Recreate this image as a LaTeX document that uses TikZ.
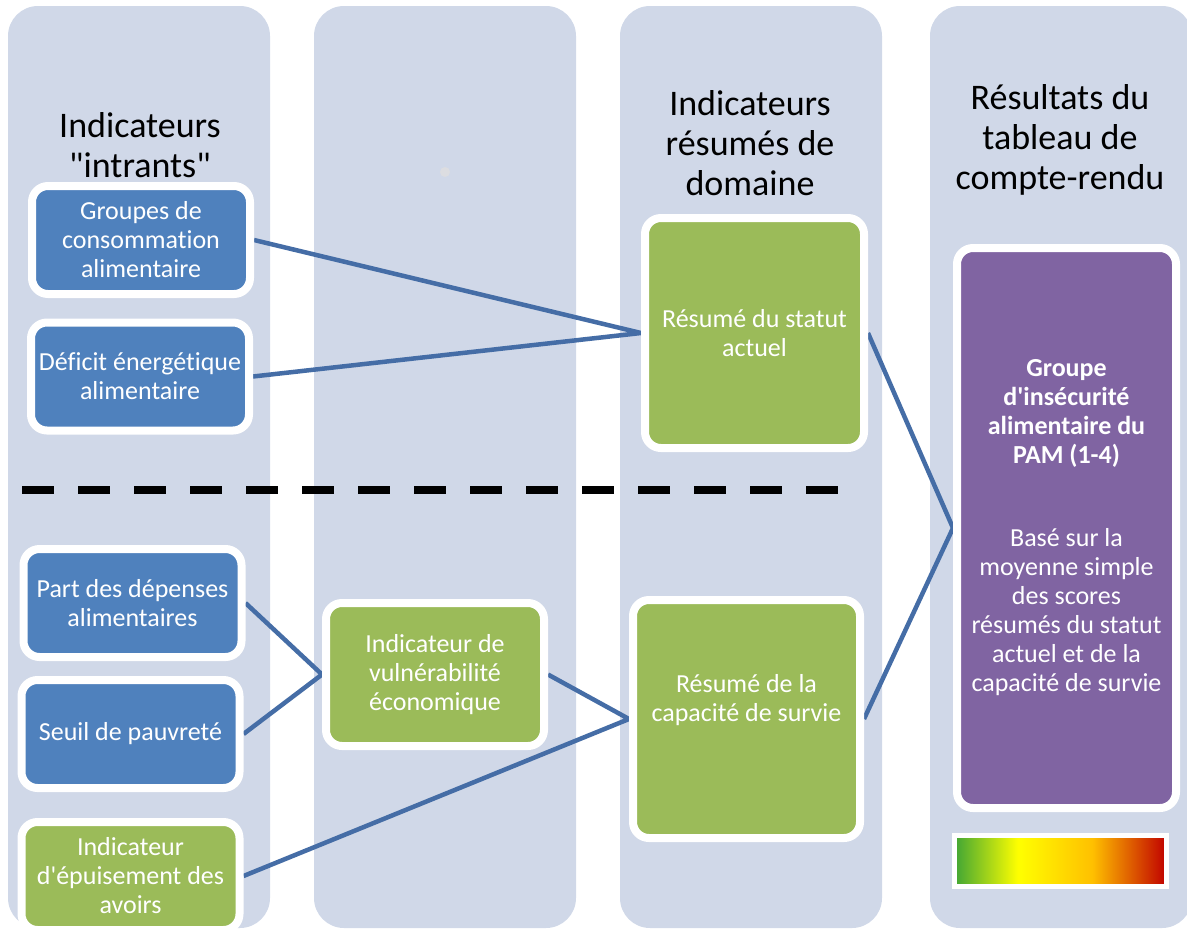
\documentclass[tikz,border=0pt]{standalone}
\usepackage{fontspec}
\setmainfont{Carlito}[Ligatures={TeXOff,CommonOff}]
\usetikzlibrary{arrows,shadows,backgrounds}

\definecolor{colbg}{HTML}{D0D8E8}
\definecolor{inblue}{HTML}{4F81BD}
\definecolor{sumgreen}{HTML}{9BBB59}
\definecolor{wfppurple}{HTML}{8064A2}
\definecolor{linkblue}{HTML}{456DA6}
\definecolor{dotgrey}{HTML}{DCDDE1}
\definecolor{barg}{HTML}{3FA535}
\definecolor{bary}{HTML}{FFFF00}
\definecolor{baro}{HTML}{FFC000}
\definecolor{barr}{HTML}{C00000}
\pgfdeclarehorizontalshading{scorebar}{100bp}{color(0bp)=(barg); color(25bp)=(barg); color(40bp)=(bary); color(57.5bp)=(baro); color(75bp)=(barr); color(100bp)=(barr)}

\begin{document}
\begin{tikzpicture}[x=1pt,y=-1pt,
  column/.style={fill=colbg, rounded corners=30pt},
  card/.style={draw=white, line width=8pt, rounded corners=16pt, text=white,
    align=center, font=\fontsize{26}{29}\selectfont,
    drop shadow={shadow xshift=1pt, shadow yshift=-3pt, opacity=0.3}},
  inbox/.style={card, fill=inblue, minimum width=218pt, minimum height=108pt},
  sumbox/.style={card, fill=sumgreen},
  head/.style={align=center, font=\fontsize{36}{40}\selectfont},
  link/.style={draw=linkblue, line width=4.5pt}]

\useasboundingbox (0,0) rectangle (1187,930);

\node[head] (inhead) at (140,145) {Indicateurs\\"intrants"};
\node[head] (dmhead) at (750,143) {Indicateurs\\résumés de\\domaine};
\node[head] (reshead) at (1060,140) {Résultats du\\tableau de\\compte-rendu};

\node[inbox] (gca) at (141,240) {Groupes de\\consommation\\alimentaire};
\node[inbox] (def) at (140,376.5) {Déficit énergétique\\alimentaire};
\node[inbox] (dep) at (132.5,603) {Part des dépenses\\alimentaires};
\node[inbox] (seuil) at (130.5,734) {Seuil de pauvreté};
\node[inbox, fill=sumgreen] (avoirs) at (130.5,876) {Indicateur\\d'épuisement des\\avoirs};

\node[sumbox, minimum width=218pt, minimum height=143pt] (vuln) at (435,674.5)
{Indicateur de\\vulnérabilité\\économique};
\node[sumbox, minimum width=219pt, minimum height=230pt] (statut) at (754.5,333)
{Résumé du statut\\actuel};
\node[sumbox, minimum width=227pt, minimum height=238pt] (survie) at (746.5,719) {};
\node[text=white, align=center, font=\fontsize{26}{29}\selectfont] (survietxt)
at (746.5,700) {Résumé de la\\capacité de survie};

\node[card, fill=wfppurple, minimum width=219pt, minimum height=560pt] (cari) at (1066.5,528)
{\textbf{Groupe}\\\textbf{d'insécurité}\\\textbf{alimentaire du}\\\textbf{PAM (1-4)}\\[54pt]
Basé sur la\\moyenne simple\\des scores\\résumés du statut\\actuel et de la\\capacité de survie};

\node[draw=white, line width=5pt, shading=scorebar, minimum width=212pt,
  minimum height=51pt] (scale) at (1060.5,861) {};

\draw[line width=8pt, dash pattern=on 32pt off 24pt] (22,490) -- (840,490);

\begin{scope}[on background layer]
\foreach \x in {8,314,620,930}
\fill[column] (\x,6) rectangle ++(262,922);
\fill[dotgrey] (445,172) circle (5);
\draw[link] (gca.east) -- (statut.west) -- (def.east);
\draw[link] (dep.east) -- (vuln.west) -- (seuil.east);
\draw[link] (vuln.east) -- (survie.west) -- (avoirs.east);
\draw[link] (statut.east) -- (cari.west) -- (survie.east);
\end{scope}

\end{tikzpicture}
\end{document}
